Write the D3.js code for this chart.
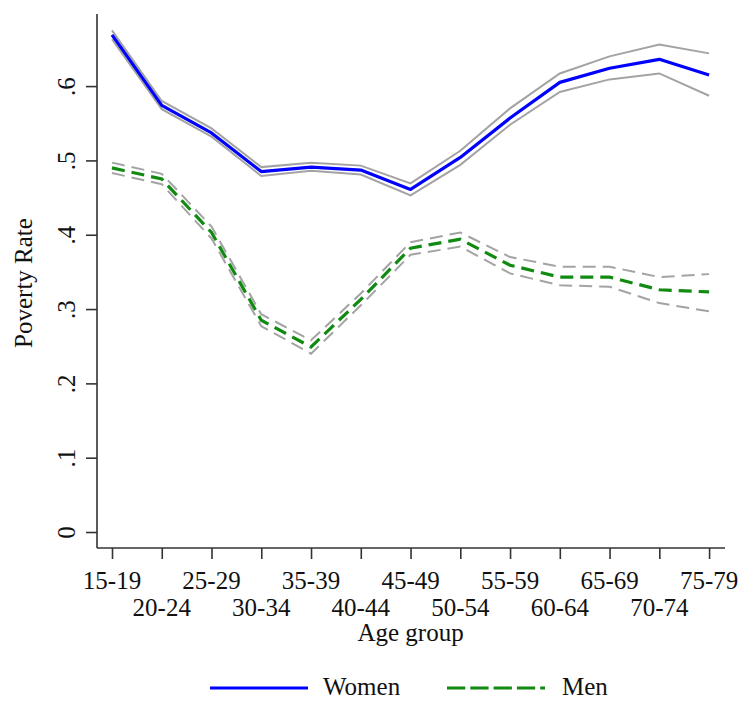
<!DOCTYPE html>
<html><head><meta charset="utf-8">
<script src="https://cdn.jsdelivr.net/npm/d3@7"></script>
<style>body{margin:0;background:#fff}svg{display:block}text{font-family:"Liberation Serif","Times New Roman",serif;fill:#111}</style>
</head><body><svg id="c" width="743" height="703"></svg>
<script>
const categories = ["15-19","20-24","25-29","30-34","35-39","40-44","45-49","50-54","55-59","60-64","65-69","70-74","75-79"];
const womenMean = [.669,.574,.537,.485,.491,.487,.461,.504,.557,.605,.624,.636,.615];
const womenLo   = [.663,.569,.532,.479,.486,.481,.453,.494,.548,.592,.609,.617,.587];
const womenHi   = [.675,.580,.543,.491,.497,.493,.469,.513,.570,.617,.640,.656,.644];
const menMean = [.490,.475,.403,.285,.249,.313,.382,.394,.359,.343,.343,.326,.323];
const menLo   = [.483,.468,.395,.277,.240,.305,.373,.384,.348,.332,.330,.308,.297];
const menHi   = [.497,.482,.411,.293,.258,.321,.390,.403,.370,.357,.357,.343,.347];
const yTicks = [0,.1,.2,.3,.4,.5,.6];
const yTickLabels = ["0",".1",".2",".3",".4",".5",".6"];
const legendLabels = ["Women","Men"];

const svg = d3.select("#c");
const x = d3.scaleLinear().domain([-0.3015, 12.32]).range([97, 725]);
const y = d3.scaleLinear().domain([-0.0215, 0.697]).range([548, 14]);
const fs = 25;

// axes
const ya = svg.append("g").attr("transform","translate(97,0)")
  .call(d3.axisLeft(y).tickValues(yTicks).tickSize(11).tickFormat((d,i)=>yTickLabels[i]));
const xa = svg.append("g").attr("transform","translate(0,548)")
  .call(d3.axisBottom(x).tickValues(d3.range(categories.length)).tickSize(11).tickFormat(""));
[ya,xa].forEach(a=>{
  a.select(".domain").attr("stroke","#333").attr("stroke-width",1.6);
  a.selectAll(".tick line").attr("stroke","#333").attr("stroke-width",1.6);
});
ya.select(".domain").attr("d","M0,"+y.range()[0]+"V"+y.range()[1]);
xa.select(".domain").attr("d","M"+x.range()[0]+",0H"+x.range()[1]);
ya.selectAll(".tick text").attr("transform","rotate(-90)").attr("x",0).attr("y",-22).attr("dy",0)
  .attr("text-anchor","middle").attr("font-size",fs).attr("font-family","Liberation Serif").attr("fill","#111");

// staggered x labels
svg.append("g").selectAll("text").data(categories).join("text")
  .attr("x",(d,i)=>x(i)).attr("y",(d,i)=> i%2===0 ? 589 : 616)
  .attr("text-anchor","middle").attr("font-size",fs).text(d=>d);
svg.append("text").attr("x",(x(0)+x(12))/2).attr("y",641).attr("text-anchor","middle").attr("font-size",fs).text("Age group");
svg.append("text").attr("transform","translate(32,"+((y.range()[0]+y.range()[1])/2+2)+") rotate(-90)")
  .attr("text-anchor","middle").attr("font-size",fs).text("Poverty Rate");

const line = d3.line().x((d,i)=>x(i)).y(d=>y(d));
const grey = "#a3a3a3";
[womenLo, womenHi].forEach(arr=>svg.append("path").attr("d",line(arr)).attr("fill","none").attr("stroke",grey).attr("stroke-width",2));
[menLo, menHi].forEach(arr=>svg.append("path").attr("d",line(arr)).attr("fill","none").attr("stroke",grey).attr("stroke-width",2).attr("stroke-dasharray","13,7"));
svg.append("path").attr("d",line(womenMean)).attr("fill","none").attr("stroke","#0000ff").attr("stroke-width",3.2).attr("stroke-linejoin","round");
svg.append("path").attr("d",line(menMean)).attr("fill","none").attr("stroke","#108a10").attr("stroke-width",3.2).attr("stroke-dasharray","13,7");

// legend
const lg = svg.append("g");
lg.append("line").attr("x1",210).attr("x2",308).attr("y1",688).attr("y2",688).attr("stroke","#0000ff").attr("stroke-width",3);
lg.append("text").attr("x",323).attr("y",695).attr("font-size",fs).text(legendLabels[0]);
lg.append("line").attr("x1",447).attr("x2",545).attr("y1",688).attr("y2",688).attr("stroke","#108a10").attr("stroke-width",3).attr("stroke-dasharray","18.3,5");
lg.append("text").attr("x",562).attr("y",695).attr("font-size",fs).text(legendLabels[1]);
</script></body></html>
